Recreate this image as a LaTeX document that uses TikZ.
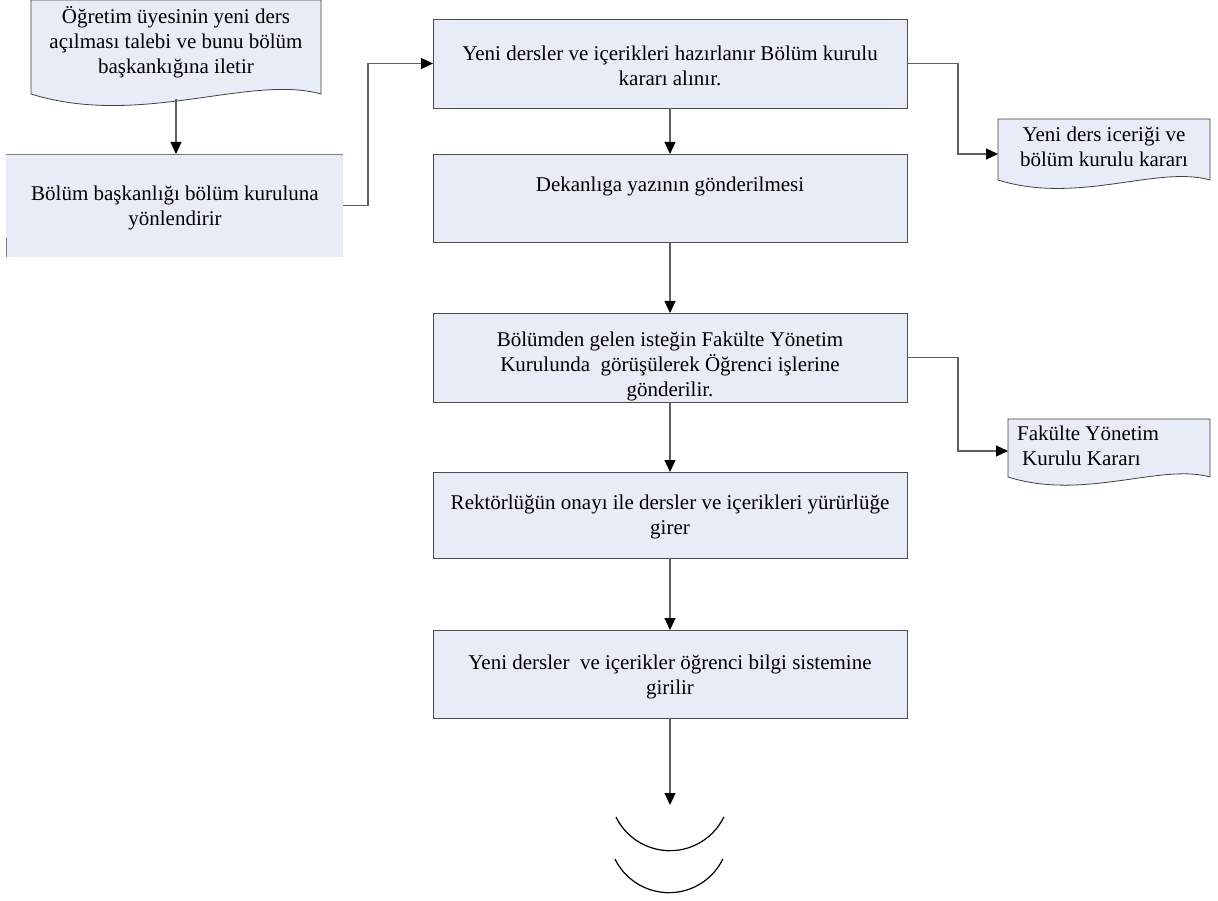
\documentclass[tikz,border=0pt]{standalone}
\usepackage{fontspec}
\setmainfont{Liberation Serif}
\usetikzlibrary{arrows.meta,calc,backgrounds}
\definecolor{boxfill}{RGB}{232,236,247}
\definecolor{linegray}{RGB}{95,95,95}
\begin{document}
\begin{tikzpicture}[x=1pt,y=-1pt,
  box/.style={draw=black!70,line width=0.8pt,fill=boxfill,inner sep=0pt,outer sep=0pt,minimum width=474pt},
  txt/.style={font=\fontsize{21}{25}\selectfont,align=center,inner sep=0pt},
  docarea/.style={inner sep=0pt,outer sep=0pt},
  docshape/.style={draw=black!75,line width=0.8pt,fill=boxfill},
  conn/.style={draw=linegray,line width=1.2pt,-{Triangle[length=12pt,width=11pt,color=black]}},
  arcline/.style={draw=black,line width=1.2pt},
]
\useasboundingbox (0,0) rectangle (1218,901);

% document 1
\node[docarea,minimum width=290pt,minimum height=94pt] (d1) at (176,47) {};
\node[txt] (t1) at (176,42) {Öğretim üyesinin yeni ders\\açılması talebi ve bunu bölüm\\başkankığına iletir};

% box 2
\node[fill=boxfill,inner sep=0pt,outer sep=0pt,minimum width=337pt,minimum height=103pt] (b2) at (174.5,205.5) {};
\draw[line width=0.8pt,draw=black!50] (b2.north west) -- (b2.north east);
\draw[line width=0.8pt,draw=black!50] (b2.south west) -- ++(0,-19);
\node[txt] (t2) at (175,208) {Bölüm başkanlığı bölüm kuruluna\\yönlendirir};

% main column
\node[box,minimum height=89pt] (b3) at (670,63.5) {};
\node[txt] (t3) at (670,66) {Yeni dersler ve içerikleri hazırlanır Bölüm kurulu\\kararı alınır.};

\node[box,minimum height=88pt] (b4) at (670,198) {};
\node[txt] (t4) at (670,186) {Dekanlıga yazının gönderilmesi};

\node[box,minimum height=89pt] (b5) at (670,357.5) {};
\node[txt] (t5) at (670,366) {Bölümden gelen isteğin Fakülte Yönetim\\Kurulunda\ \ görüşülerek Öğrenci işlerine\\gönderilir.};

\node[box,minimum height=86pt] (b6) at (670,515) {};
\node[txt] (t6) at (670,516.5) {Rektörlüğün onayı ile dersler ve içerikleri yürürlüğe\\girer};

\node[box,minimum height=88pt] (b7) at (670,674) {};
\node[txt] (t7) at (670,676.5) {Yeni dersler\ \ ve içerikler öğrenci bilgi sistemine\\girilir};

% document 2
\node[docarea,minimum width=212pt,minimum height=61pt] (d2) at (1104,149.5) {};
\node[txt] (t8) at (1104,147) {Yeni ders iceriği ve\\bölüm kurulu kararı};

% document 3
\node[docarea,minimum width=202pt,minimum height=58pt] (d3) at (1109,448) {};
\node[txt,align=left,anchor=west] (t9) at (1017,446) {Fakülte Yönetim\\\hspace*{5pt}Kurulu Kararı};

% document outlines
\begin{pgfonlayer}{background}
\path[docshape] (d1.north west) -- (d1.north east) -- (d1.south east)
  .. controls +(-71,-20) and +(109,34) .. (d1.south west) -- cycle;
\path[docshape] (d2.north west) -- (d2.north east) -- (d2.south east)
  .. controls +(-52,-15) and +(80,25) .. (d2.south west) -- cycle;
\path[docshape] (d3.north west) -- (d3.north east) -- (d3.south east)
  .. controls +(-49,-14) and +(76,24) .. (d3.south west) -- cycle;
\end{pgfonlayer}

% connectors
\coordinate (d1out) at (176,99);
\draw[conn] (d1out) -- (d1out |- b2.north);
\draw[conn] (b2.east) -- ++(25,0) |- (b3.west);
\draw[conn] (b3.south) -- (b4.north);
\draw[conn] (b4.south) -- (b5.north);
\draw[conn] (b5.south) -- (b6.north);
\draw[conn] (b6.south) -- (b7.north);
\coordinate (endpt) at (670,805);
\draw[conn] (b7.south) -- (endpt);
\draw[conn] (b3.east) -- ++(51,0) |- ([yshift=-4.5pt]d2.west);
\draw[conn] (b5.east) -- ++(51,0) |- ([yshift=-3pt]d3.west);

% off-page connector arcs
\draw[arcline] (616,817) arc[start angle=154,end angle=26,radius=60];
\draw[arcline] (615,859) arc[start angle=154,end angle=26,radius=60];
\end{tikzpicture}
\end{document}
